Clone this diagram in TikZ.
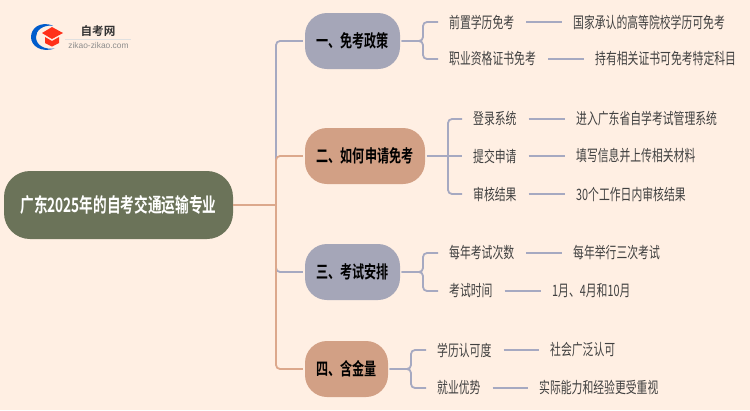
\documentclass[tikz,border=0pt]{standalone}
\usepackage{fontspec}
\setmainfont{Liberation Sans}
\newfontfamily\cjk[FakeStretch=0.69]{Noto Sans CJK SC}
\newfontfamily\cjkb[FakeStretch=0.69]{Noto Sans CJK SC Bold}
\newfontfamily\cjklogo{Noto Sans CJK SC Bold}
\definecolor{bgc}{HTML}{FFEFE3}
\definecolor{rootc}{HTML}{6B7359}
\definecolor{greyc}{HTML}{A5A6B8}
\definecolor{tanc}{HTML}{D2A085}
\definecolor{greyl}{HTML}{A6A9C1}
\definecolor{tanl}{HTML}{DCA88C}
\definecolor{leafc}{HTML}{404040}
\begin{document}
\begin{tikzpicture}[x=1pt,y=-1pt,
rootnode/.style={fill=rootc, text=white, rounded corners=26pt, minimum width=229pt, minimum height=68pt, inner sep=0pt, font=\fontsize{19.8}{20}\cjkb},
mainnode/.style={rounded corners=22pt, minimum height=56pt, inner sep=0pt, text=black, font=\fontsize{17.5}{18}\cjkb},
leafnode/.style={anchor=west, inner sep=0pt, text=leafc, font=\fontsize{15.7}{16}\cjk},
greyline/.style={draw=greyl, line width=1.8pt, rounded corners=4pt},
tanline/.style={draw=tanl, line width=1.8pt, rounded corners=4pt},
branchline/.style={greyline, shorten >=11pt},
leafline/.style={draw=greyl, line width=1.8pt, shorten <=12pt, shorten >=11pt}]
\useasboundingbox (0,0) rectangle (750,410);
\fill[bgc] (0,0) rectangle (750,410);

\fill[black!12] (65,39) rectangle (131,39.6);
\fill[blue!55!cyan!80!black] (53,25.5) .. controls (40,21) and (31,28) .. (31,37) .. controls (31,46) and (41,53) .. (55,48.5) .. controls (44,50) and (36,45) .. (36,37) .. controls (36,30) and (43,25) .. (53,25.5) -- cycle;
\fill[red!80!orange!90] (42,33) -- (52,27) -- (63,33) -- (52,39) -- cycle;
\fill[red!80!orange!90] (45,37) -- (52,41) -- (59,37) -- (59,43) -- (52,46.5) -- (45,43) -- cycle;
\node[inner sep=0pt, text=black!80, font=\fontsize{11.6}{12}\cjklogo] (logoname) at (98,31){自考网};
\node[inner sep=0pt, text=black!45, font=\fontsize{8.4}{8}\selectfont] (logourl) at (98.5,45){zikao-zikao.com};

\node[rootnode] (root) at (118.5,205){广东2025年的自考交通运输专业};
\node[mainnode, fill=greyc, minimum width=95pt] (m1) at (352.5,41){一、免考政策};
\node[mainnode, fill=tanc, minimum width=120pt] (m2) at (365,156){二、如何申请免考};
\node[mainnode, fill=greyc, minimum width=95pt] (m3) at (352.5,272){三、考试安排};
\node[mainnode, fill=tanc, minimum width=83pt] (m4) at (346.5,369){四、含金量};

\coordinate (trunk) at (276,205);
\coordinate (bm1) at (423,41);
\coordinate (bm2) at (448,156);
\coordinate (bm3) at (423,272);
\coordinate (bm4) at (411,369);

\draw[greyline] (trunk) |- ([xshift=-2pt]m1.west);
\draw[greyline] (trunk) |- ([xshift=-2pt]m3.west);
\draw[tanline] (root.east) -- (trunk);
\draw[tanline] (trunk) |- ([xshift=-2pt]m2.west);
\draw[tanline] (trunk) |- ([xshift=-2pt]m4.west);

\node[leafnode] (l11) at (449,22){前置学历免考};
\node[leafnode] (l12) at (449,59){职业资格证书免考};
\node[leafnode] (l21) at (473,119){登录系统};
\node[leafnode] (l22) at (473,156){提交申请};
\node[leafnode] (l23) at (473,194){审核结果};
\node[leafnode] (l31) at (449,253){每年考试次数};
\node[leafnode] (l32) at (449,291){考试时间};
\node[leafnode] (l41) at (437,350){学历认可度};
\node[leafnode] (l42) at (437,388){就业优势};

\node[leafnode] (d11) at (573,22){国家承认的高等院校学历可免考};
\node[leafnode] (d12) at (595,59){持有相关证书可免考特定科目};
\node[leafnode] (d21) at (576,119){进入广东省自学考试管理系统};
\node[leafnode] (d22) at (576,156){填写信息并上传相关材料};
\node[leafnode] (d23) at (576,194){30个工作日内审核结果};
\node[leafnode] (d31) at (573,253){每年举行三次考试};
\node[leafnode] (d32) at (552,291){1月、4月和10月};
\node[leafnode] (d41) at (550,350){社会广泛认可};
\node[leafnode] (d42) at (539,388){实际能力和经验更受重视};

\draw[branchline] ([xshift=1.5pt]m1.east) -- (bm1) |- (l11.west);
\draw[branchline] ([xshift=1.5pt]m1.east) -- (bm1) |- (l12.west);
\draw[branchline] ([xshift=1.5pt]m2.east) -- (l22.west);
\draw[branchline] (bm2) |- (l21.west);
\draw[branchline] (bm2) |- (l23.west);
\draw[branchline] ([xshift=1.5pt]m3.east) -- (bm3) |- (l31.west);
\draw[branchline] ([xshift=1.5pt]m3.east) -- (bm3) |- (l32.west);
\draw[branchline] ([xshift=1.5pt]m4.east) -- (bm4) |- (l41.west);
\draw[branchline] ([xshift=1.5pt]m4.east) -- (bm4) |- (l42.west);

\draw[leafline] (l11.east) -- (d11.west);
\draw[leafline] (l12.east) -- (d12.west);
\draw[leafline] (l21.east) -- (d21.west);
\draw[leafline] (l22.east) -- (d22.west);
\draw[leafline] (l23.east) -- (d23.west);
\draw[leafline] (l31.east) -- (d31.west);
\draw[leafline] (l32.east) -- (d32.west);
\draw[leafline] (l41.east) -- (d41.west);
\draw[leafline] (l42.east) -- (d42.west);
\end{tikzpicture}
\end{document}
